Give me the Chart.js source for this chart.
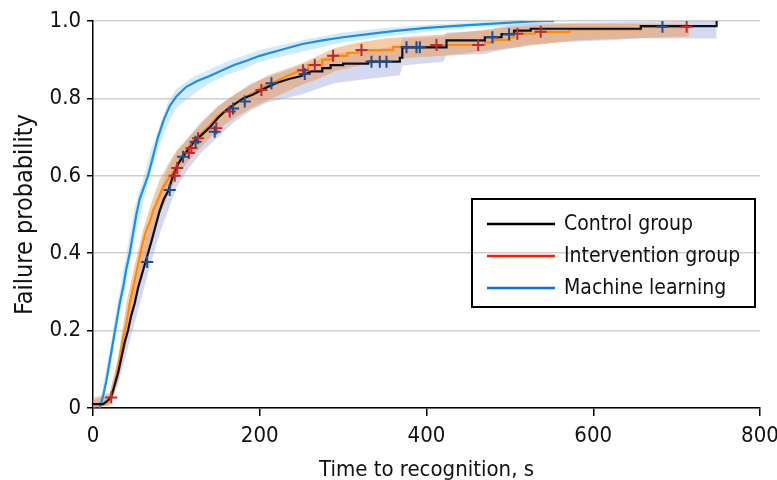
<!DOCTYPE html>
<html>
<head>
<meta charset="utf-8">
<script src="https://cdn.jsdelivr.net/npm/chart.js@4.4.1/dist/chart.umd.min.js"></script>
<style>
  html, body { margin: 0; padding: 0; background: #fff; }
  #wrap { width: 777px; height: 480px; position: relative; }
</style>
</head>
<body>
<div id="wrap"><canvas id="kmChart"></canvas></div>
<script>
// Kaplan-Meier style failure curves (time in s, failure probability)
// steps in the flat part are written as pairs at the same time
const controlT = [0, 12, 18, 22, 26, 30, 34, 38, 42, 46, 50, 54, 58, 62, 66, 70, 75, 80, 85, 90, 96, 102, 108, 115, 122, 130, 140, 150, 160, 170, 180, 192, 205, 220, 235, 250, 262,
  275, 275, 285, 285, 300, 300, 330, 330, 368, 368, 371, 371, 424, 424, 470, 470, 490, 490, 505, 505, 525, 525, 657, 657, 748, 748];
const controlP = [0.01, 0.01, 0.02, 0.03, 0.06, 0.09, 0.13, 0.17, 0.2, 0.24, 0.27, 0.31, 0.34, 0.37, 0.4, 0.43, 0.47, 0.51, 0.54, 0.56, 0.6, 0.63, 0.65, 0.67, 0.69, 0.705, 0.725, 0.75, 0.77, 0.785, 0.8, 0.81, 0.825, 0.84, 0.85, 0.858, 0.87,
  0.87, 0.878, 0.878, 0.886, 0.886, 0.89, 0.89, 0.895, 0.895, 0.905, 0.905, 0.932, 0.932, 0.95, 0.95, 0.958, 0.958, 0.966, 0.966, 0.975, 0.975, 0.98, 0.98, 0.987, 0.987, 1.0];

const interventionT = [0, 15, 20, 24, 28, 32, 36, 40, 44, 48, 52, 56, 60, 64, 68, 72, 78, 84, 90, 96, 102, 108, 115, 122, 130, 140, 150, 160, 170, 180, 192, 205, 220, 235, 250,
  258, 258, 275, 275, 287, 287, 305, 305, 318, 318, 360, 360, 405, 405, 470, 470, 480, 480, 500, 500, 505, 505, 530, 530, 571, 571, 657, 657, 715];
const interventionP = [0.01, 0.01, 0.02, 0.04, 0.08, 0.13, 0.18, 0.22, 0.27, 0.31, 0.35, 0.39, 0.43, 0.46, 0.48, 0.51, 0.54, 0.57, 0.59, 0.61, 0.635, 0.655, 0.675, 0.695, 0.71, 0.73, 0.755, 0.77, 0.785, 0.8, 0.815, 0.83, 0.845, 0.86, 0.873,
  0.873, 0.886, 0.886, 0.9, 0.9, 0.91, 0.91, 0.918, 0.918, 0.925, 0.925, 0.933, 0.933, 0.938, 0.938, 0.945, 0.945, 0.951, 0.951, 0.958, 0.958, 0.967, 0.967, 0.972, 0.972, 0.978, 0.978, 0.985, 0.985];

const mlT = [8, 12, 16, 20, 24, 28, 32, 36, 40, 44, 48, 52, 56, 61, 66, 72, 78, 85, 92, 100, 106, 112, 125, 140, 155, 170, 185, 200, 225, 250, 275, 300, 330, 360, 400, 440, 480, 520, 540, 553];
const mlP = [0, 0.03, 0.07, 0.12, 0.17, 0.22, 0.27, 0.31, 0.36, 0.4, 0.45, 0.5, 0.54, 0.57, 0.6, 0.65, 0.7, 0.745, 0.78, 0.805, 0.818, 0.83, 0.845, 0.858, 0.873, 0.887, 0.898, 0.91, 0.925, 0.94, 0.95, 0.958, 0.966, 0.974, 0.982, 0.988, 0.993, 0.998, 1.0, 1.0];

// confidence bands
const controlBandT = [0, 20, 30, 40, 50, 60, 70, 80, 90, 100, 115, 130, 150, 170, 190, 210, 230, 250, 270, 290, 310, 330, 350, 368, 371, 420, 424, 470, 490, 505, 525, 560, 620, 657, 700, 748];
const controlLo = [0, 0.01, 0.06, 0.14, 0.22, 0.3, 0.38, 0.45, 0.51, 0.57, 0.62, 0.66, 0.7, 0.74, 0.77, 0.79, 0.8, 0.81, 0.825, 0.84, 0.845, 0.85, 0.855, 0.86, 0.885, 0.895, 0.91, 0.915, 0.925, 0.93, 0.94, 0.945, 0.95, 0.955, 0.955, 0.955];
const controlHi = [0.02, 0.035, 0.12, 0.22, 0.32, 0.41, 0.49, 0.56, 0.62, 0.66, 0.7, 0.74, 0.78, 0.81, 0.84, 0.855, 0.87, 0.885, 0.9, 0.915, 0.92, 0.925, 0.93, 0.935, 0.955, 0.96, 0.97, 0.975, 0.985, 0.99, 0.993, 0.995, 0.997, 0.998, 1.0, 1.0];

const interventionBandT = [0, 20, 30, 40, 50, 60, 70, 80, 90, 100, 115, 130, 150, 170, 190, 210, 230, 250, 270, 290, 320, 350, 380, 420, 460, 500, 540, 580, 640, 715];
const interventionLo = [0, 0.005, 0.07, 0.17, 0.27, 0.36, 0.44, 0.5, 0.55, 0.595, 0.64, 0.675, 0.72, 0.75, 0.775, 0.795, 0.815, 0.835, 0.85, 0.87, 0.885, 0.895, 0.905, 0.91, 0.92, 0.93, 0.94, 0.95, 0.955, 0.96];
const interventionHi = [0.025, 0.04, 0.13, 0.27, 0.37, 0.46, 0.53, 0.59, 0.63, 0.665, 0.7, 0.735, 0.78, 0.81, 0.835, 0.86, 0.875, 0.89, 0.91, 0.93, 0.945, 0.955, 0.96, 0.965, 0.975, 0.985, 0.99, 0.993, 0.993, 0.993];

const mlBandT = [8, 20, 30, 40, 50, 60, 70, 80, 90, 100, 120, 140, 160, 180, 200, 230, 260, 300, 350, 400, 450, 500, 553];
const mlLo = [0, 0.09, 0.22, 0.32, 0.44, 0.53, 0.61, 0.68, 0.735, 0.775, 0.81, 0.84, 0.86, 0.875, 0.895, 0.91, 0.925, 0.945, 0.96, 0.972, 0.982, 0.988, 0.993];
const mlHi = [0.01, 0.15, 0.28, 0.4, 0.52, 0.59, 0.67, 0.73, 0.79, 0.825, 0.855, 0.875, 0.895, 0.91, 0.925, 0.94, 0.955, 0.97, 0.982, 0.99, 0.996, 1.0, 1.0];

// censoring marks
const controlCensorT = [65, 92, 108, 123, 146, 168, 182, 214, 254, 334, 344, 352, 376, 388, 392, 479, 499, 683];
const controlCensorP = [0.377, 0.563, 0.649, 0.688, 0.714, 0.774, 0.792, 0.839, 0.863, 0.895, 0.895, 0.895, 0.932, 0.932, 0.932, 0.958, 0.966, 0.985];
const interventionCensorT = [22, 98, 101, 115, 118, 126, 148, 164, 202, 252, 266, 288, 322, 412, 462, 509, 537, 712];
const interventionCensorP = [0.027, 0.6, 0.62, 0.659, 0.672, 0.697, 0.723, 0.766, 0.822, 0.873, 0.886, 0.91, 0.925, 0.938, 0.938, 0.967, 0.972, 0.985];

const xTicks = [0, 200, 400, 600, 800];
const yTicks = [0, 0.2, 0.4, 0.6, 0.8, 1.0];

const legendLabels = ["Control group", "Intervention group", "Machine learning"];
const legendColors = ["#000000", "#ff1a00", "#0a72e6"];

const FONT = "'DejaVu Sans Condensed', 'Liberation Sans Narrow', 'DejaVu Sans', sans-serif";

const pts = (ts, ys) => ts.map((t, i) => ({ x: t, y: ys[i] }));

function band(ts, lo, hi, color, order) {
  return [
    { data: pts(ts, lo), borderWidth: 0, borderColor: "rgba(0,0,0,0)", pointRadius: 0, fill: false, order: order },
    { data: pts(ts, hi), borderWidth: 0, borderColor: "rgba(0,0,0,0)", pointRadius: 0, fill: "-1", backgroundColor: color, order: order }
  ];
}

const legendBox = {
  id: "legendBox",
  afterDraw(chart) {
    const ctx = chart.ctx;
    ctx.save();
    ctx.strokeStyle = "#000";
    ctx.lineWidth = 2;
    ctx.strokeRect(472, 199, 283, 108);
    ctx.font = "21px " + FONT;
    ctx.textBaseline = "middle";
    ctx.fillStyle = "#111";
    legendLabels.forEach((lab, i) => {
      const y = 224 + i * 32;
      ctx.strokeStyle = legendColors[i];
      ctx.lineWidth = 2.5;
      ctx.beginPath();
      ctx.moveTo(487, y);
      ctx.lineTo(555, y);
      ctx.stroke();
      ctx.fillText(lab, 564, y + 1);
    });
    ctx.restore();
  }
};

const ctx = document.getElementById("kmChart");

new Chart(ctx, {
  type: "line",
  data: {
    datasets: [
      { data: pts(controlCensorT, controlCensorP), showLine: false, pointStyle: "cross", pointRadius: 6, borderColor: "#1d4f8f", borderWidth: 2, order: 0 },
      { data: pts(interventionCensorT, interventionCensorP), showLine: false, pointStyle: "cross", pointRadius: 6, borderColor: "#c0282d", borderWidth: 2, order: 0 },
      { data: pts(controlT, controlP), borderColor: "#0b1020", borderWidth: 2.2, pointRadius: 0, fill: false, order: 1 },
      { data: pts(interventionT, interventionP), borderColor: "#ff8c00", borderWidth: 2.2, pointRadius: 0, fill: false, order: 2 },
      { data: pts(mlT, mlP), borderColor: "#1a8fe8", borderWidth: 2.2, pointRadius: 0, fill: false, order: 3 },
      ...band(interventionBandT, interventionLo, interventionHi, "rgba(238,140,55,0.45)", 4),
      ...band(controlBandT, controlLo, controlHi, "rgba(150,160,215,0.4)", 5),
      ...band(mlBandT, mlLo, mlHi, "rgba(120,200,245,0.35)", 6)
    ]
  },
  options: {
    responsive: true,
    maintainAspectRatio: false,
    animation: false,
    layout: { padding: { top: 21, right: 17, left: 0, bottom: 0 } },
    plugins: { legend: { display: false }, tooltip: { enabled: false } },
    scales: {
      x: {
        type: "linear",
        min: 0, max: 800,
        afterFit: s => { s.height = 72; s.paddingLeft = 0; s.paddingRight = 0; },
        afterBuildTicks: s => { s.ticks = xTicks.map(v => ({ value: v })); },
        ticks: { color: "#111", font: { family: FONT, size: 22 }, padding: 7 },
        grid: { drawOnChartArea: false, tickLength: 8, tickColor: "#000", lineWidth: 1.5 },
        border: { color: "#000", width: 1.5 },
        title: { display: true, text: "Time to recognition, s", color: "#111", font: { family: FONT, size: 22 }, padding: { top: 0, bottom: -3 } }
      },
      y: {
        min: 0, max: 1,
        afterFit: s => { s.width = 93; s.paddingTop = 0; s.paddingBottom = 0; },
        afterBuildTicks: s => { s.ticks = yTicks.map(v => ({ value: v })); },
        ticks: { color: "#111", font: { family: FONT, size: 22 }, padding: 6, callback: v => v === 0 ? "0" : v.toFixed(1) },
        grid: { color: "#cfcfcf", lineWidth: 1.5, tickLength: 6, tickColor: "#000" },
        border: { color: "#000", width: 1.5 },
        title: { display: true, text: "Failure probability", color: "#111", font: { family: FONT, size: 25 }, padding: { top: 10, bottom: 0 } }
      }
    }
  },
  plugins: [legendBox]
});
</script>
</body>
</html>
